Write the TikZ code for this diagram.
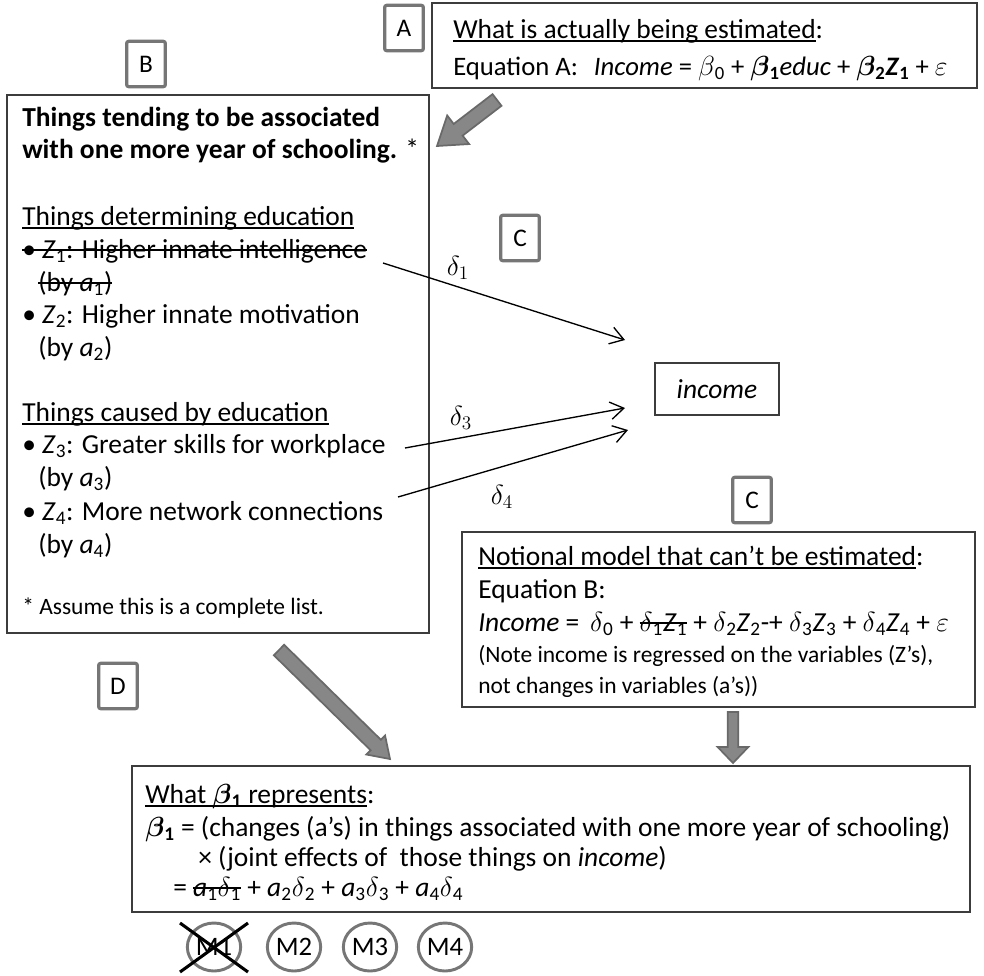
\documentclass[tikz,border=0pt]{standalone}
\usepackage{amsmath}
\usepackage{bm}
\usepackage{fontspec}
\setmainfont{Carlito}
\usetikzlibrary{arrows.meta,calc,fit,shapes.geometric}
\newcommand\strk[1]{\setbox0\hbox{#1}\rlap{\rule[0.27em]{\wd0}{0.055em}}\box0\relax}
\newcommand\undl[1]{\setbox0\hbox{#1}\rlap{\rule[-0.13em]{\wd0}{0.055em}}\box0\relax}
\newcommand\sbs[1]{\textsubscript{#1}}
\definecolor{lblgray}{RGB}{118,118,118}
\definecolor{arrfill}{RGB}{135,135,135}
\definecolor{arredge}{RGB}{105,105,105}
\definecolor{boxline}{RGB}{60,60,60}
\newcommand\blockarrow[5]{%
  \coordinate (ba-h) at ($(#2)!#5!(#1)$);
  \filldraw[blockarr] ($(#1)!#3!90:(#2)$) -- ($(ba-h)!#3!90:(#2)$) -- ($(ba-h)!#4!90:(#2)$) -- (#2)
    -- ($(ba-h)!#4!-90:(#2)$) -- ($(ba-h)!#3!-90:(#2)$) -- ($(#1)!#3!-90:(#2)$) -- cycle;}
\begin{document}
\begin{tikzpicture}[x=0.75pt,y=-0.75pt,
  txt/.style={anchor=base west, inner sep=0pt, font=\fontsize{20.6}{24}\selectfont},
  smalltxt/.style={anchor=base west, inner sep=0pt, font=\fontsize{17.6}{21}\selectfont},
  mainbox/.style={draw=boxline, line width=1.1pt, inner sep=0pt},
  lbl/.style={draw=lblgray, line width=2.4pt, rounded corners=1.5pt, minimum width=29pt, minimum height=34pt, inner sep=0pt, font=\fontsize{19}{22}\selectfont},
  mcirc/.style={ellipse, draw=lblgray, line width=2.2pt, minimum width=40pt, minimum height=36pt, inner sep=0pt, font=\fontsize{20}{22}\selectfont},
  thinarr/.style={line width=1pt, -{Straight Barb[length=10pt,width=13pt,line width=1pt]}},
  blockarr/.style={fill=arrfill, draw=arredge, line width=1.3pt, line join=miter},
  dlab/.style={inner sep=0pt, font=\fontsize{22}{24}\selectfont}]
\useasboundingbox (0,0) rectangle (984,975);
\fill[white] (0,0) rectangle (984,975);

% ---- Box A
\node[mainbox, fit={(432,3) (977,88)}] (boxA) {};
\node[lbl] (lA) at (404,28) {A};
\node[txt] (a1) at (453,38) {\undl{What is actually being estimated}:};
\node[txt, font=\fontsize{20}{24}\selectfont] (a2) at (453,75) {Equation A:\hspace{0.6em}\textit{Income} = $\beta$\sbs{0} + $\bm\beta$\textbf{\sbs{1}}\textit{educ} + $\bm\beta$\textbf{\sbs{2}}\textbf{\textit{Z}}\textbf{\sbs{1}} + $\varepsilon$};

% ---- Box B
\node[mainbox, fit={(7,95) (429,633)}] (boxB) {};
\node[lbl] (lB) at (146,64) {B};
\node[txt] (b1) at (22,126) {\textbf{Things tending to be associated}};
\node[txt] (b2) at (22,158) {\textbf{with one more year of schooling.} *};
\node[txt] (b3) at (22,225) {\undl{Things determining education}};
\node[txt] (b4) at (22,258) {\strk{\textbullet\ \textit{Z}\sbs{1}: Higher innate intelligence}};
\node[txt] (b5) at (38,291) {\strk{(by \textit{a}\sbs{1})}};
\node[txt] (b6) at (22,323) {\textbullet\ \textit{Z}\sbs{2}: Higher innate motivation};
\node[txt] (b7) at (38,356) {(by \textit{a}\sbs{2})};
\node[txt] (b8) at (22,421) {\undl{Things caused by education}};
\node[txt] (b9) at (22,453) {\textbullet\ \textit{Z}\sbs{3}: Greater skills for workplace};
\node[txt] (b10) at (38,486) {(by \textit{a}\sbs{3})};
\node[txt] (b11) at (22,520) {\textbullet\ \textit{Z}\sbs{4}: More network connections};
\node[txt] (b12) at (38,553) {(by \textit{a}\sbs{4})};
\node[smalltxt] (b13) at (22,614) {* Assume this is a complete list.};

% ---- block arrow A -> B
\coordinate (abS) at (497,100);
\coordinate (abE) at (437,146);
\blockarrow{abS}{abE}{5.5pt}{13.5pt}{20pt}

% ---- income and delta arrows
\node[draw=boxline, line width=1.1pt, minimum width=93pt, minimum height=39pt, inner sep=0pt, font=\fontsize{20.6}{24}\selectfont] (inc) at (717,389) {\textit{income}};
\node[lbl] (lC1) at (520,238) {C};
\coordinate (d1s) at (383,263);
\coordinate (d1e) at (625,340);
\coordinate (d3s) at (405,448);
\coordinate (d3e) at (625,408);
\coordinate (d4s) at (398,497);
\coordinate (d4e) at (628,430);
\draw[thinarr] (d1s) -- (d1e);
\draw[thinarr] (d3s) -- (d3e);
\draw[thinarr] (d4s) -- (d4e);
\node[dlab] (del1) at (458,268) {$\delta_1$};
\node[dlab] (del3) at (461,418) {$\delta_3$};
\node[dlab] (del4) at (502,497) {$\delta_4$};

% ---- Box Eq B
\node[lbl] (lC2) at (752,500) {C};
\node[mainbox, fit={(462,532) (975,707)}] (boxC) {};
\node[txt] (c1) at (478,565) {\undl{Notional model that can’t be estimated}:};
\node[txt] (c2) at (478,598) {Equation B:};
\node[txt] (c3) at (478,631) {\textit{Income} = \,$\delta$\sbs{0} + \strk{$\delta$\sbs{1}\textit{Z}\sbs{1}} + $\delta$\sbs{2}\textit{Z}\sbs{2}-+ $\delta$\sbs{3}\textit{Z}\sbs{3} + $\delta$\sbs{4}\textit{Z}\sbs{4} + $\varepsilon$};
\node[smalltxt] (c4) at (478,662) {(Note income is regressed on the variables (Z’s),};
\node[smalltxt] (c5) at (478,693) {not changes in variables (a’s))};

% ---- block arrows to bottom
\node[lbl] (lD) at (118,686) {D};
\coordinate (dS) at (279,650);
\coordinate (dE) at (390,759);
\blockarrow{dS}{dE}{5.5pt}{10pt}{15pt}
\coordinate (eS) at (733,712);
\coordinate (eE) at (733,763);
\blockarrow{eS}{eE}{4pt}{11.5pt}{12pt}

% ---- Bottom box
\node[mainbox, fit={(132,766) (970,912)}] (boxD) {};
\node[txt] (e1) at (145,803) {\undl{What \textit{$\bm\beta$}\textbf{\sbs{1}} represents}:};
\node[txt] (e2) at (145,836) {$\bm\beta$\textbf{\sbs{1}} = (changes (a’s) in things associated with one more year of schooling)};
\node[txt] (e3) at (198,866) {× (joint effects of\ \ those things on \textit{income})};
\node[txt] (e4) at (173,896) {= \strk{\textit{a}\sbs{1}$\delta$\sbs{1}} + \textit{a}\sbs{2}$\delta$\sbs{2} + \textit{a}\sbs{3}$\delta$\sbs{3} + \textit{a}\sbs{4}$\delta$\sbs{4}};

% ---- M circles
\node[mcirc] (m1) at (214,947) {M1};
\node[mcirc] (m2) at (294,947) {M2};
\node[mcirc] (m3) at (370,947) {M3};
\node[mcirc] (m4) at (445,947) {M4};
\coordinate (x1a) at (180,923);
\coordinate (x1b) at (248,972);
\coordinate (x2a) at (248,923);
\coordinate (x2b) at (180,972);
\draw[line width=2.3pt] (x1a) -- (x1b);
\draw[line width=2.3pt] (x2a) -- (x2b);
\end{tikzpicture}
\end{document}
